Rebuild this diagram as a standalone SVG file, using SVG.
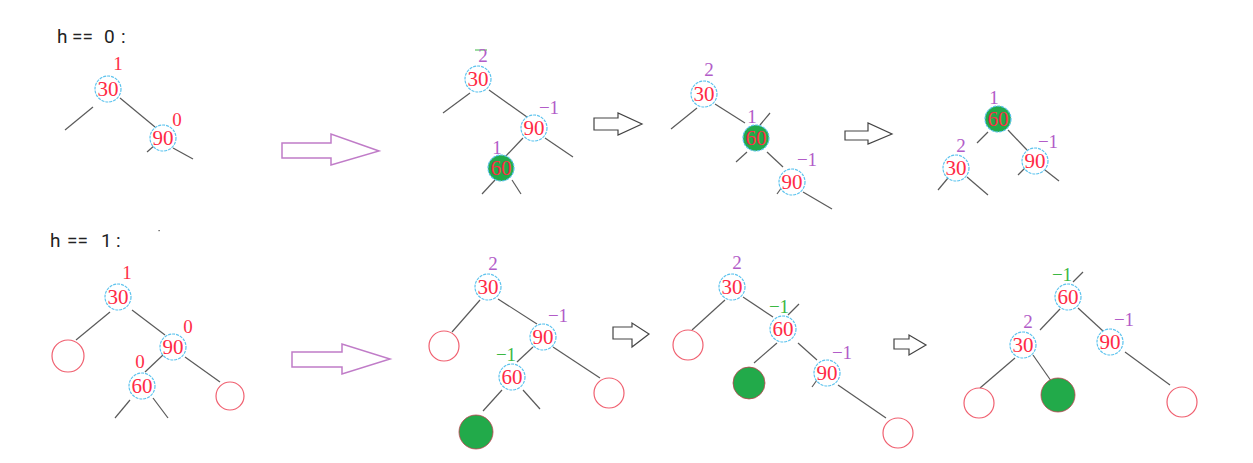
<svg xmlns="http://www.w3.org/2000/svg" width="1253" height="463" viewBox="0 0 1253 463">
<style>
.title{font-family:Roboto,"Liberation Sans",sans-serif;font-size:19px;fill:#222}
.edge{stroke:#5a5a5a;stroke-width:1.2;fill:none}
.node circle{fill:#fff;stroke:#5cc3ee;stroke-width:1.2;stroke-dasharray:3 1}
.node circle.g{fill:#22aa4a}
.node text.v{font-family:"Liberation Serif",serif;font-size:21px;fill:#ff2a45;text-anchor:middle}
.bf{font-family:"Liberation Serif",serif;font-size:19px;text-anchor:middle}
.r{fill:#ff3048}.p{fill:#b25cc8}.gr{fill:#3cb843}
.leaf{fill:#fff;stroke:#f06070;stroke-width:1.2}
.gleaf{fill:#22aa4a;stroke:#c04050;stroke-width:0.8}
.parrow{fill:#fff;stroke:#c07cc8;stroke-width:1.5}
.barrow{fill:#fff;stroke:#444;stroke-width:1.2}
</style>
<rect width="1253" height="463" fill="#fff"/>
<text class="title" x="57" y="43">h <tspan x="72">==</tspan> <tspan x="104">0</tspan><tspan x="121">:</tspan></text>
<text class="title" x="50" y="247">h <tspan x="67">==</tspan> <tspan x="101">1</tspan><tspan x="116">:</tspan></text>
<rect x="158.5" y="230" width="1.2" height="1.2" fill="#444"/>

<g id="connectors">
<!-- top tree 1 -->
<line class="edge" x1="93" y1="107" x2="65" y2="130"/>
<line class="edge" x1="120" y1="98" x2="155" y2="127"/>
<line class="edge" x1="155" y1="145" x2="147" y2="152"/>
<line class="edge" x1="173" y1="148" x2="193" y2="159"/>
<!-- top tree 2 -->
<line class="edge" x1="470" y1="93" x2="443" y2="113"/>
<line class="edge" x1="489" y1="90" x2="527" y2="117"/>
<line class="edge" x1="545" y1="138" x2="573" y2="157"/>
<line class="edge" x1="523" y1="138" x2="505" y2="157"/>
<line class="edge" x1="495" y1="180" x2="482" y2="194"/>
<line class="edge" x1="512" y1="180" x2="521" y2="194"/>
<!-- top tree 3 -->
<line class="edge" x1="697" y1="108" x2="671" y2="129"/>
<line class="edge" x1="715" y1="104" x2="745" y2="123"/>
<line class="edge" x1="760" y1="125" x2="770" y2="113"/>
<line class="edge" x1="747" y1="152" x2="736" y2="162"/>
<line class="edge" x1="767" y1="152" x2="783" y2="167"/>
<line class="edge" x1="782" y1="187" x2="777" y2="194"/>
<line class="edge" x1="803" y1="192" x2="832" y2="209"/>
<!-- top tree 4 -->
<line class="edge" x1="988" y1="132" x2="977" y2="143"/>
<line class="edge" x1="1008" y1="130" x2="1027" y2="150"/>
<line class="edge" x1="1025" y1="168" x2="1018" y2="175"/>
<line class="edge" x1="1045" y1="170" x2="1059" y2="181"/>
<line class="edge" x1="948" y1="178" x2="938" y2="190"/>
<line class="edge" x1="967" y1="177" x2="988" y2="195"/>
<!-- bottom tree 1 -->
<line class="edge" x1="110" y1="312" x2="76" y2="340"/>
<line class="edge" x1="132" y1="310" x2="165" y2="335"/>
<line class="edge" x1="163" y1="355" x2="145" y2="372"/>
<line class="edge" x1="185" y1="357" x2="220" y2="382"/>
<line class="edge" x1="130" y1="400" x2="115" y2="418"/>
<line class="edge" x1="153" y1="398" x2="168" y2="418"/>
<!-- bottom tree 2 -->
<line class="edge" x1="480" y1="300" x2="452" y2="332"/>
<line class="edge" x1="498" y1="299" x2="537" y2="324"/>
<line class="edge" x1="533" y1="347" x2="517" y2="362"/>
<line class="edge" x1="553" y1="347" x2="600" y2="378"/>
<line class="edge" x1="502" y1="390" x2="483" y2="411"/>
<line class="edge" x1="523" y1="390" x2="540" y2="409"/>
<!-- bottom tree 3 -->
<line class="edge" x1="725" y1="300" x2="692" y2="330"/>
<line class="edge" x1="743" y1="297" x2="773" y2="317"/>
<line class="edge" x1="788" y1="315" x2="799" y2="304"/>
<line class="edge" x1="777" y1="343" x2="754" y2="363"/>
<line class="edge" x1="798" y1="343" x2="817" y2="360"/>
<line class="edge" x1="817" y1="380" x2="812" y2="387"/>
<line class="edge" x1="838" y1="385" x2="886" y2="418"/>
<!-- bottom tree 4 -->
<line class="edge" x1="1073" y1="282" x2="1083" y2="272"/>
<line class="edge" x1="1060" y1="309" x2="1040" y2="330"/>
<line class="edge" x1="1078" y1="308" x2="1103" y2="331"/>
<line class="edge" x1="1015" y1="358" x2="980" y2="388"/>
<line class="edge" x1="1033" y1="355" x2="1056" y2="388"/>
<line class="edge" x1="1125" y1="352" x2="1170" y2="385"/>
</g>

<g id="arrows">
<polygon class="parrow" points="282,143 331,143 331,134 379,151 331,165 331,158 282,158"/>
<polygon class="parrow" points="292,352 342,352 342,344 390,359 342,374 342,367 292,367"/>
<polygon class="barrow" points="594,118 618,118 618,113 642,124 618,135 618,130 594,130"/>
<polygon class="barrow" points="845,131 868,131 868,123 892,134 868,144 868,140 845,140"/>
<polygon class="barrow" points="613,327 632,327 632,323 649,334 632,347 632,339 613,339"/>
<polygon class="barrow" points="894,339 909,339 909,335 926,345 909,355 909,349 894,349"/>
</g>

<!-- top tree 1 -->
<g id="t1-30" class="node"><circle cx="108" cy="89" r="13"/><text class="v" x="108" y="96">30</text><text class="bf r" x="118" y="70">1</text></g>
<g id="t1-90" class="node"><circle cx="163" cy="138" r="13"/><text class="v" x="163" y="145">90</text><text class="bf r" x="177" y="126">0</text></g>

<!-- top tree 2 -->
<g id="t2-30" class="node"><circle cx="478" cy="79" r="13"/><text class="v" x="478" y="86">30</text><line x1="475" y1="50" x2="487" y2="50" stroke="#3cb843" stroke-width="1"/><text class="bf p" x="483" y="62">2</text></g>
<g id="t2-90" class="node"><circle cx="534" cy="128" r="13"/><text class="v" x="534" y="135">90</text><text class="bf p" x="549" y="114">−1</text></g>
<g id="t2-60" class="node"><circle class="g" cx="501" cy="168" r="13"/><text class="v" x="501" y="175">60</text><text class="bf p" x="497" y="154">1</text></g>

<!-- top tree 3 -->
<g id="t3-30" class="node"><circle cx="704" cy="94" r="13"/><text class="v" x="704" y="101">30</text><text class="bf p" x="709" y="76">2</text></g>
<g id="t3-60" class="node"><circle class="g" cx="756" cy="138" r="13"/><text class="v" x="756" y="145">60</text><text class="bf p" x="752" y="123">1</text></g>
<g id="t3-90" class="node"><circle cx="792" cy="182" r="13"/><text class="v" x="792" y="189">90</text><text class="bf p" x="807" y="166">−1</text></g>

<!-- top tree 4 -->
<g id="t4-60" class="node"><circle class="g" cx="998" cy="119" r="13"/><text class="v" x="998" y="126">60</text><text class="bf p" x="994" y="104">1</text></g>
<g id="t4-30" class="node"><circle cx="956" cy="168" r="13"/><text class="v" x="956" y="175">30</text><text class="bf p" x="961" y="152">2</text></g>
<g id="t4-90" class="node"><circle cx="1035" cy="161" r="13"/><text class="v" x="1035" y="168">90</text><text class="bf p" x="1048" y="148">−1</text></g>

<!-- bottom tree 1 -->
<g id="b1-30" class="node"><circle cx="118" cy="297" r="13"/><text class="v" x="118" y="304">30</text><text class="bf r" x="127" y="279">1</text></g>
<g id="b1-90" class="node"><circle cx="173" cy="347" r="13"/><text class="v" x="173" y="354">90</text><text class="bf r" x="188" y="333">0</text></g>
<g id="b1-60" class="node"><circle cx="142" cy="386" r="13"/><text class="v" x="142" y="393">60</text><text class="bf r" x="140" y="368">0</text></g>
<g id="b1-l1"><circle class="leaf" cx="68" cy="356" r="16"/></g>
<g id="b1-l2"><circle class="leaf" cx="230" cy="396" r="14"/></g>

<!-- bottom tree 2 -->
<g id="b2-30" class="node"><circle cx="488" cy="287" r="13"/><text class="v" x="488" y="294">30</text><text class="bf p" x="493" y="270">2</text></g>
<g id="b2-90" class="node"><circle cx="543" cy="337" r="13"/><text class="v" x="543" y="344">90</text><text class="bf p" x="558" y="322">−1</text></g>
<g id="b2-60" class="node"><circle cx="512" cy="377" r="13"/><text class="v" x="512" y="384">60</text><text class="bf gr" x="506" y="361">−1</text></g>
<g id="b2-l1"><circle class="leaf" cx="444" cy="346" r="15"/></g>
<g id="b2-l2"><circle class="leaf" cx="609" cy="393" r="15"/></g>
<g id="b2-l3"><circle class="gleaf" cx="476" cy="432" r="17"/></g>

<!-- bottom tree 3 -->
<g id="b3-30" class="node"><circle cx="732" cy="287" r="13"/><text class="v" x="732" y="294">30</text><text class="bf p" x="737" y="269">2</text></g>
<g id="b3-60" class="node"><circle cx="783" cy="329" r="13"/><text class="v" x="783" y="336">60</text><text class="bf gr" x="779" y="313">−1</text></g>
<g id="b3-90" class="node"><circle cx="827" cy="373" r="13"/><text class="v" x="827" y="380">90</text><text class="bf p" x="842" y="359">−1</text></g>
<g id="b3-l1"><circle class="leaf" cx="688" cy="345" r="15"/></g>
<g id="b3-l2"><circle class="gleaf" cx="749" cy="383" r="16"/></g>
<g id="b3-l3"><circle class="leaf" cx="898" cy="433" r="15"/></g>

<!-- bottom tree 4 -->
<g id="b4-60" class="node"><circle cx="1068" cy="297" r="13"/><text class="v" x="1068" y="304">60</text><text class="bf gr" x="1062" y="281">−1</text></g>
<g id="b4-30" class="node"><circle cx="1023" cy="345" r="13"/><text class="v" x="1023" y="352">30</text><text class="bf p" x="1028" y="328">2</text></g>
<g id="b4-90" class="node"><circle cx="1110" cy="342" r="13"/><text class="v" x="1110" y="349">90</text><text class="bf p" x="1124" y="326">−1</text></g>
<g id="b4-l1"><circle class="leaf" cx="979" cy="403" r="15"/></g>
<g id="b4-l2"><circle class="gleaf" cx="1058" cy="395" r="17"/></g>
<g id="b4-l3"><circle class="leaf" cx="1182" cy="402" r="15"/></g>
</svg>
